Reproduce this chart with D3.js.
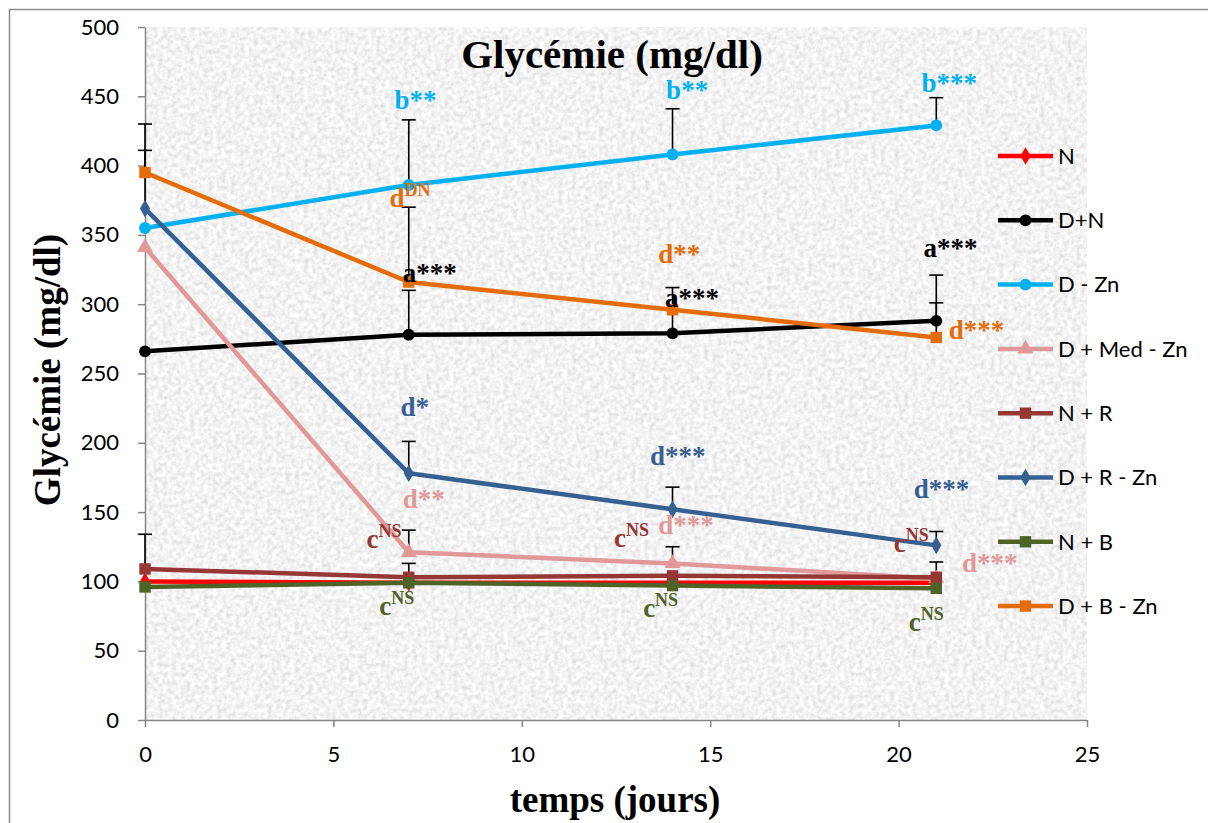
<!DOCTYPE html>
<html>
<head>
<meta charset="utf-8">
<script src="https://cdn.jsdelivr.net/npm/d3@7"></script>
<style>
  body { margin: 0; background: #fff; }
  svg { display: block; }
  .tick text { font-family: Lato, "Liberation Sans", sans-serif; font-size: 22px; fill: #000; }
</style>
</head>
<body>
<svg id="chart"></svg>
<script>
// ---- data ----
const days = [0, 7, 14, 21];
const seriesNames = ['N', 'D+N', 'D - Zn', 'D + Med - Zn', 'N + R', 'D + R - Zn', 'N + B', 'D + B - Zn'];
const seriesColors = ['#ff0000', '#000000', '#00b0f0', '#e0989a', '#953735', '#376092', '#4f6228', '#e46c0a'];
const seriesMarkers = ['diamond', 'circle', 'circle', 'triangle', 'square', 'diamond', 'square', 'square'];

const valN       = [100, 99, 99, 99];
const valDN      = [266, 278, 279, 288];
const valDZn     = [355, 386, 408, 429];
const valDMedZn  = [341, 121, 113, 102];
const valNR      = [109, 103, 104, 103];
const valDRZn    = [369, 178, 152, 126];
const valNB      = [96, 99, 97, 95];
const valDBZn    = [395, 316, 296, 276];
const seriesValues = [valN, valDN, valDZn, valDMedZn, valNR, valDRZn, valNB, valDBZn];

// upper error bars (null = none drawn)
const errN       = [null, null, null, null];
const errDN      = [null, 32, 33, 33];
const errDZn     = [null, 47, 33, 20];
const errDMedZn  = [null, 16, 12, null];
const errNR      = [25, 10, null, 11];
const errDRZn    = [61, 23, 16, 10];
const errNB      = [null, null, null, null];
const errDBZn    = [16, 54, null, 25];
const seriesErrors = [errN, errDN, errDZn, errDMedZn, errNR, errDRZn, errNB, errDBZn];

// significance letters: [day, value, letter, superscript, series index]
const annotations = [
  [6.62, 441, 'b', '**', 2], [13.83, 448, 'b', '**', 2], [20.61, 453, 'b', '***', 2],
  [6.49, 370, 'd', 'DN', 7], [13.62, 330, 'd', '**', 7], [21.33, 275, 'd', '***', 7],
  [6.84, 316, 'a', '***', 1], [13.80, 298, 'a', '***', 1], [20.66, 334, 'a', '***', 1],
  [6.78, 219, 'd', '*', 5], [13.40, 184, 'd', '***', 5], [20.40, 160, 'd', '***', 5],
  [6.84, 153, 'd', '**', 3], [13.62, 134, 'd', '***', 3], [21.68, 107, 'd', '***', 3],
  [5.88, 124, 'c', 'NS', 4], [12.45, 125, 'c', 'NS', 4], [19.87, 121, 'c', 'NS', 4],
  [6.22, 76, 'c', 'NS', 6], [13.22, 74, 'c', 'NS', 6], [20.27, 64, 'c', 'NS', 6]
];

const xTicks = [0, 5, 10, 15, 20, 25];
const yTicks = [0, 50, 100, 150, 200, 250, 300, 350, 400, 450, 500];

// ---- layout ----
const W = 1208, H = 823;
const margin = {top: 27, right: 121, bottom: 103, left: 145};
const width = W - margin.left - margin.right;
const height = H - margin.top - margin.bottom;
const serif = '"Liberation Serif", "Times New Roman", serif';
const sans = 'Lato, "Liberation Sans", sans-serif';

const svg = d3.select('#chart').attr('width', W).attr('height', H);

// texture filter for plot background
const defs = svg.append('defs');
const filter = defs.append('filter').attr('id', 'tex')
  .attr('x', 0).attr('y', 0).attr('width', '100%').attr('height', '100%');
filter.append('feTurbulence')
  .attr('type', 'fractalNoise').attr('baseFrequency', 0.22).attr('numOctaves', 3).attr('seed', 4);
filter.append('feColorMatrix').attr('type', 'matrix')
  .attr('values', '0.45 0 0 0 0.67  0.45 0 0 0 0.67  0.45 0 0 0 0.67  0 0 0 0 1');

// outer frame
svg.append('rect')
  .attr('x', 9.5).attr('y', 9.5).attr('width', 1300).attr('height', 900)
  .attr('fill', 'none').attr('stroke', '#8c8c8c').attr('stroke-width', 1.5);

const chart = svg.append('g').attr('transform', `translate(${margin.left},${margin.top})`);

const xScale = d3.scaleLinear().domain([0, 25]).range([0, width]);
const yScale = d3.scaleLinear().domain([0, 500]).range([height, 0]);

chart.append('rect')
  .attr('width', width).attr('height', height)
  .attr('filter', 'url(#tex)');

// axes
const yAxisG = chart.append('g')
  .call(d3.axisLeft(yScale).tickValues(yTicks).tickSize(7).tickPadding(19).tickSizeOuter(0));
const xAxisG = chart.append('g')
  .attr('transform', `translate(0,${height})`)
  .call(d3.axisBottom(xScale).tickValues(xTicks).tickSize(7).tickPadding(19).tickSizeOuter(0));
[yAxisG, xAxisG].forEach(g => {
  g.select('.domain').attr('stroke', '#868686').attr('stroke-width', 1.5);
  g.selectAll('.tick line').attr('stroke', '#868686').attr('stroke-width', 1.5);
  g.selectAll('.tick text').style('font-family', sans).style('font-size', '22px');
});

// error bars
seriesValues.forEach((vals, s) => {
  const errs = seriesErrors[s];
  days.forEach((d, i) => {
    if (errs[i] == null) return;
    const x = xScale(d), y0 = yScale(vals[i]), y1 = yScale(vals[i] + errs[i]);
    chart.append('line').attr('x1', x).attr('x2', x).attr('y1', y0).attr('y2', y1)
      .attr('stroke', '#000').attr('stroke-width', 1.6);
    chart.append('line').attr('x1', x - 7).attr('x2', x + 7).attr('y1', y1).attr('y2', y1)
      .attr('stroke', '#000').attr('stroke-width', 1.6);
  });
});

function markerPath(type, size) {
  const sym = {circle: d3.symbolCircle, square: d3.symbolSquare, diamond: d3.symbolDiamond, triangle: d3.symbolTriangle}[type];
  return d3.symbol().type(sym).size(size)();
}
const markerSize = {circle: 110, square: 130, diamond: 90, triangle: 110};

const line = d3.line().x(d => xScale(d[0])).y(d => yScale(d[1]));

seriesValues.forEach((vals, s) => {
  const pts = days.map((d, i) => [d, vals[i]]);
  chart.append('path').datum(pts)
    .attr('d', line)
    .attr('fill', 'none')
    .attr('stroke', seriesColors[s])
    .attr('stroke-width', 4.5)
    .attr('stroke-linejoin', 'round');
  chart.selectAll(null).data(pts).join('path')
    .attr('transform', d => `translate(${xScale(d[0])},${yScale(d[1])})`)
    .attr('d', markerPath(seriesMarkers[s], markerSize[seriesMarkers[s]]))
    .attr('fill', seriesColors[s]);
});

// annotations
annotations.forEach(a => {
  const t = chart.append('text')
    .attr('x', xScale(a[0])).attr('y', yScale(a[1]))
    .attr('font-family', serif).attr('font-weight', 'bold')
    .attr('font-size', 27).attr('fill', seriesColors[a[4]]);
  t.append('tspan').text(a[2]);
  if (a[3].indexOf('*') >= 0) {
    t.append('tspan').attr('font-size', 27).text(a[3]);
  } else {
    t.append('tspan').attr('font-size', 18).attr('dy', -11).text(a[3]);
  }
});

// legend
const legend = svg.append('g').attr('transform', 'translate(998,156)');
seriesNames.forEach((name, s) => {
  const g = legend.append('g').attr('transform', `translate(0,${s * 64.3})`);
  g.append('line').attr('x1', 0).attr('x2', 55).attr('y1', 0).attr('y2', 0)
    .attr('stroke', seriesColors[s]).attr('stroke-width', 4.5);
  g.append('path').attr('transform', 'translate(27.5,0)')
    .attr('d', markerPath(seriesMarkers[s], markerSize[seriesMarkers[s]]))
    .attr('fill', seriesColors[s]);
  g.append('text').attr('x', 60).attr('y', 0).attr('dy', '0.35em')
    .attr('font-family', sans).attr('font-size', 22).attr('fill', '#000')
    .text(name);
});

// titles
svg.append('text')
  .attr('x', 612).attr('y', 68).attr('text-anchor', 'middle')
  .attr('font-family', serif).attr('font-weight', 'bold').attr('font-size', 41)
  .text('Glycémie (mg/dl)');
svg.append('text')
  .attr('transform', 'translate(60,370) rotate(-90)').attr('text-anchor', 'middle')
  .attr('font-family', serif).attr('font-weight', 'bold').attr('font-size', 37)
  .text('Glycémie (mg/dl)');
svg.append('text')
  .attr('x', 615).attr('y', 812).attr('text-anchor', 'middle')
  .attr('font-family', serif).attr('font-weight', 'bold').attr('font-size', 37)
  .text('temps (jours)');
</script>
</body>
</html>
